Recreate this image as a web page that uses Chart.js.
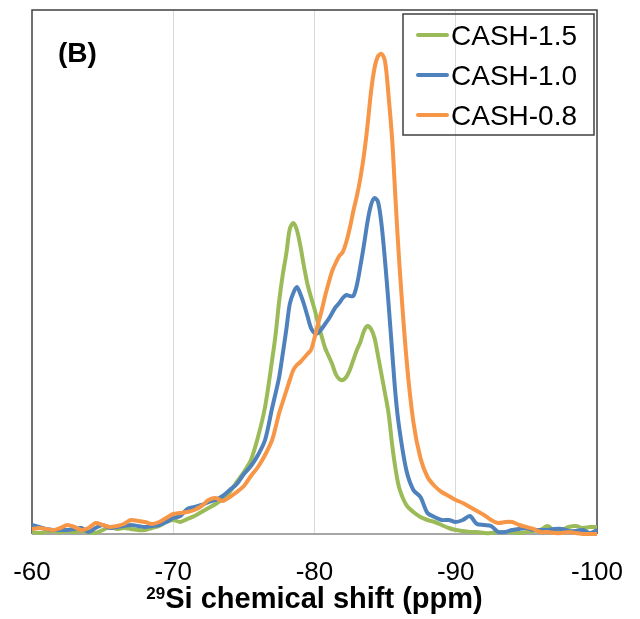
<!DOCTYPE html>
<html>
<head>
<meta charset="utf-8">
<script src="https://cdn.jsdelivr.net/npm/chart.js@4.4.0/dist/chart.umd.min.js"></script>
<style>
  html, body { margin: 0; padding: 0; background: #fff; }
  #wrap { width: 640px; height: 619px; }
</style>
</head>
<body>
<div id="wrap"><canvas id="grafico"></canvas></div>
<script>
// deslocamento químico (ppm)
const shift = [
  -60, -60.5, -61, -61.5, -62, -62.5, -63, -63.5, -64, -64.5,
  -65, -65.5, -66, -66.5, -67, -67.5, -68, -68.5, -69, -69.5,
  -70, -70.5, -71, -71.5, -72, -72.5, -73, -73.5, -74, -74.5,
  -75, -75.5, -76, -76.5,
  -77, -77.25, -77.5, -77.75, -78, -78.25, -78.5, -78.75, -79, -79.25,
  -79.5, -79.75, -80, -80.25, -80.5, -80.75, -81, -81.25, -81.5, -81.75,
  -82, -82.25, -82.5, -82.75, -83, -83.25, -83.5, -83.75, -84, -84.25,
  -84.5, -84.75, -85, -85.25, -85.5, -85.75, -86,
  -86.5, -87, -87.5, -88, -88.5, -89, -89.5, -90, -90.5, -91,
  -91.5, -92, -92.5, -93, -93.5, -94, -94.5, -95, -95.5, -96,
  -96.5, -97, -97.5, -98, -98.5, -99, -99.5, -100
];

// intensidade (u.a.)
const cash15 = [
  2, 1, 2, 3, 2, 3, 2, 3, 2, 1,
  4, 7, 5, 6, 5, 4, 4, 6, 8, 12,
  14, 12, 15, 18, 22, 26, 30, 35, 42, 52,
  62, 74, 97, 127,
  174, 200, 233, 259, 280, 305, 311, 304, 288, 268,
  250, 237, 225, 211, 198, 186, 178, 170, 160, 155,
  154, 157, 164, 174, 184, 192, 203, 208, 205, 196,
  178, 159, 140, 120, 89, 64, 46,
  29, 22, 17, 14, 12, 9, 6, 4, 3, 2,
  2, 1, 1, 2, 2, 2, 1, 2, 3, 4,
  8, 3, 4, 7, 8, 6, 7, 7
];

const cash10 = [
  9, 7, 5, 4, 4, 4, 5, 6, 2, 6,
  9, 6, 7, 8, 9, 8, 7, 8, 9, 12,
  16, 18, 25, 27, 29, 32, 34, 38, 44, 50,
  60, 68, 79, 94,
  126, 141, 157, 180, 204, 230, 241, 247, 240, 230,
  218, 206, 201, 201, 205, 210, 215, 221, 227, 231,
  236, 239, 238, 238, 249, 268, 289, 312, 329, 336,
  332, 309, 272, 229, 182, 137, 106,
  64, 44, 37, 21, 17, 14, 14, 12, 14, 18,
  10, 9, 8, 2, 2, 4, 5, 6, 4, 4,
  4, 5, 5, 3, 3, 4, 1, 4
];

const cash08 = [
  5, 6, 5, 4, 6, 9, 7, 4, 6, 11,
  9, 7, 8, 10, 14, 13, 12, 10, 12, 16,
  20, 21, 22, 24, 28, 34, 36, 33, 37, 42,
  48, 58, 67, 79,
  94, 107, 121, 132, 143, 154, 164, 169, 172, 176,
  180, 184, 196, 210, 223, 238, 251, 263, 271, 278,
  282, 292, 306, 323, 338, 356, 379, 408, 442, 466,
  478, 480, 472, 437, 394, 331, 272,
  177, 112, 76, 57, 48, 42, 38, 34, 31, 27,
  23, 19, 14, 11, 12, 12, 9, 7, 5, 2,
  2, 1, 1, 2, 1, 0, 0, 0
];

const tickLabels = [-60, -70, -80, -90, -100];
const series = ['CASH-1.5', 'CASH-1.0', 'CASH-0.8'];
const cores = ['#9bbb59', '#4f81bd', '#f79646'];

const fonte = '"Liberation Sans", Arial, sans-serif';

const pontos = (vals) => shift.map((x, i) => ({ x: x, y: vals[i] }));

// moldura, legenda, rótulo (B) e título do eixo
const extras = {
  id: 'extras',
  beforeDatasetsDraw(chart) {
    const { ctx, chartArea: a } = chart;
    ctx.save();
    ctx.strokeStyle = '#404040';
    ctx.lineWidth = 1.5;
    ctx.beginPath();
    ctx.moveTo(a.left, a.bottom);
    ctx.lineTo(a.left, a.top);
    ctx.lineTo(a.right, a.top);
    ctx.lineTo(a.right, a.bottom);
    ctx.stroke();
    ctx.strokeStyle = '#a6a6a6';
    ctx.lineWidth = 2;
    ctx.beginPath();
    ctx.moveTo(a.left, a.bottom);
    ctx.lineTo(a.right, a.bottom);
    ctx.stroke();
    ctx.restore();
  },
  afterDraw(chart) {
    const { ctx, chartArea: a } = chart;
    ctx.save();

    // legenda
    const bx = a.right - 194, by = a.top + 4;
    ctx.strokeStyle = '#404040';
    ctx.lineWidth = 1.5;
    ctx.strokeRect(bx, by, 191, 121);
    ctx.font = '28px ' + fonte;
    ctx.textBaseline = 'alphabetic';
    ctx.fillStyle = '#000';
    chart.data.datasets.forEach((ds, i) => {
      const yc = by + 21 + i * 40;
      ctx.strokeStyle = ds.borderColor;
      ctx.lineWidth = 4;
      ctx.lineCap = 'round';
      ctx.beginPath();
      ctx.moveTo(bx + 15, yc);
      ctx.lineTo(bx + 44, yc);
      ctx.stroke();
      ctx.fillText(ds.label, bx + 48, yc + 10);
    });

    // rótulo do painel
    ctx.font = 'bold 28px ' + fonte;
    ctx.fillText('(B)', a.left + 26, a.top + 52);

    // título do eixo x com sobrescrito
    const sup = '29', main = 'Si chemical shift (ppm)';
    ctx.font = 'bold 17px ' + fonte;
    const wSup = ctx.measureText(sup).width;
    ctx.font = 'bold 29px ' + fonte;
    const wMain = ctx.measureText(main).width;
    const x0 = (a.left + a.right) / 2 - (wSup + wMain) / 2;
    ctx.fillText(main, x0 + wSup, 608);
    ctx.font = 'bold 17px ' + fonte;
    ctx.fillText(sup, x0, 599);
    ctx.restore();
  }
};

new Chart(document.getElementById('grafico'), {
  type: 'line',
  data: {
    datasets: series.map((nome, i) => ({
      label: nome,
      data: pontos([cash15, cash10, cash08][i]),
      borderColor: cores[i],
      backgroundColor: cores[i],
      borderWidth: 4,
      pointRadius: 0,
      tension: 0.3,
      fill: false,
      clip: false,
      order: 2 - i
    }))
  },
  options: {
    responsive: true,
    maintainAspectRatio: false,
    animation: false,
    devicePixelRatio: 1,
    layout: { padding: { left: 32, top: 10, right: 43, bottom: 31 } },
    plugins: {
      legend: { display: false },
      tooltip: { enabled: false }
    },
    scales: {
      x: {
        type: 'linear',
        min: -100,
        max: -60,
        reverse: true,
        afterBuildTicks: (scale) => { scale.ticks = tickLabels.map(v => ({ value: v })); },
        afterFit: (scale) => {
          scale.height = 54;
          scale.paddingLeft = 0;
          scale.paddingRight = 0;
        },
        ticks: {
          autoSkip: false,
          maxRotation: 0,
          padding: 23,
          color: '#000',
          font: { family: fonte, size: 26 },
          callback: (v) => String(v)
        },
        grid: {
          drawTicks: false,
          lineWidth: 1,
          color: (c) => (c.tick && (c.tick.value === -60 || c.tick.value === -100)) ? 'rgba(0,0,0,0)' : '#d9d9d9'
        },
        border: { display: false }
      },
      y: {
        display: false,
        min: 0,
        max: 524
      }
    }
  },
  plugins: [extras]
});
</script>
</body>
</html>
